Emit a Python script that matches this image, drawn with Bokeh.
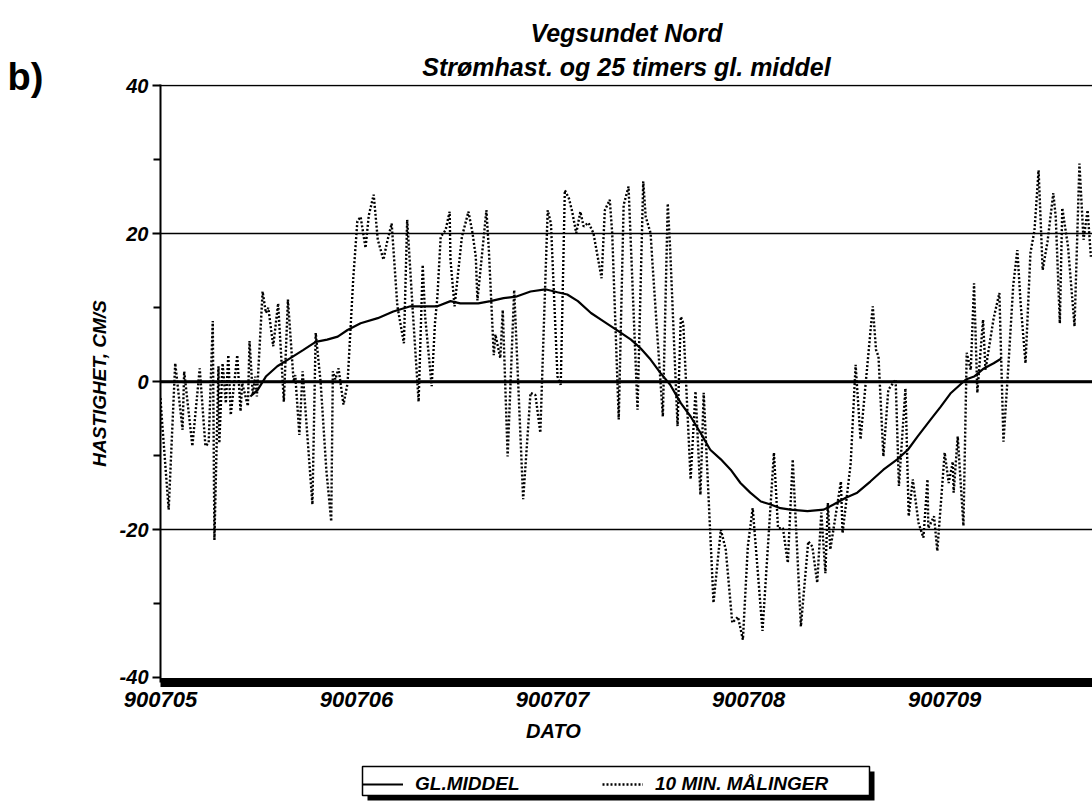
from bokeh.plotting import figure
from bokeh.layouts import row, column
from bokeh.models import FixedTicker, Label, BoxAnnotation, Span, Legend, LegendItem, Range1d, Title
from bokeh.embed import file_html
from bokeh.resources import INLINE

# 10-min measurements: time in hours after 900705 00:00, speed in cm/s
maal_t = [0.0, 0.1, 1.0, 1.8, 2.7, 2.9, 3.9, 4.8, 5.5, 5.9,
          6.4, 6.6, 7.1, 7.2, 7.6, 8.0, 8.3, 8.6, 9.4, 9.8,
          10.0, 10.7, 10.9, 11.3, 11.6, 11.8, 12.5, 12.9, 13.2, 13.8,
          14.4, 15.1, 15.6, 16.3, 16.5, 17.0, 17.4, 18.6, 19.0, 19.6,
          20.3, 20.9, 21.1, 21.4, 21.8, 22.4, 22.9, 23.6, 24.1, 24.5,
          25.1, 25.5, 26.1, 26.6, 27.3, 27.7, 28.3, 29.0, 29.8, 30.2,
          30.9, 31.6, 32.1, 32.4, 33.2, 33.6, 33.9, 34.3, 34.9, 35.4,
          35.5, 36.0, 36.9, 37.7, 38.2, 38.6, 38.8, 39.9, 40.2, 40.8,
          41.0, 41.6, 41.9, 42.5, 43.3, 44.4, 45.3, 45.9, 46.5, 47.4,
          47.8, 48.6, 49.0, 49.5, 50.0, 50.4, 50.9, 51.4, 51.8, 52.4,
          53.0, 54.0, 54.4, 55.0, 55.3, 56.1, 56.7, 57.3, 58.4, 59.1,
          59.4, 60.0, 60.2, 61.5, 62.1, 62.4, 63.3, 63.7, 64.0, 64.9,
          65.5, 66.1, 66.5, 67.7, 68.6, 69.2, 70.0, 70.7, 71.3, 71.9,
          72.5, 73.7, 75.1, 75.6, 76.2, 76.8, 77.4, 78.4, 79.3, 79.8,
          80.4, 80.9, 81.4, 81.7, 82.0, 83.3, 83.5, 84.5, 85.1, 85.7,
          87.2, 87.6, 87.9, 88.5, 89.1, 90.0, 90.4, 91.2, 91.6, 92.1,
          92.8, 93.4, 93.9, 94.0, 94.7, 95.1, 96.0, 96.5, 97.0, 97.1,
          97.6, 98.3, 98.7, 99.2, 99.6, 100.0, 100.7, 101.0, 102.0, 102.7,
          103.2, 103.8, 104.4, 104.9, 105.3, 105.9, 106.5, 107.0, 107.5, 108.0,
          108.6, 109.3, 109.6, 110.1, 110.4, 111.1, 111.9, 112.5, 113.0, 113.5,
          113.9]
maal_v = [-2.2, -4.0, -17.3, 2.5, -6.5, 1.4, -8.7, 1.8, -8.7, -8.3,
          8.2, -21.4, 2.1, -8.3, 2.5, -2.9, 3.6, -4.5, 3.6, -4.0,
          -0.2, -3.3, 5.5, -1.8, 0.7, -2.0, 12.2, 9.3, 10.0, 4.8,
          10.6, -2.7, 11.1, 0.0, 0.9, -7.2, 1.4, -16.6, 6.6, 0.0,
          -11.9, -18.9, 1.4, 0.3, 1.8, -3.1, -0.2, 14.0, 21.7, 22.3,
          18.1, 22.5, 25.3, 19.2, 16.5, 18.7, 21.4, 10.2, 5.2, 21.9,
          9.3, -2.7, 15.8, 8.8, -0.6, 7.9, 11.5, 19.6, 20.5, 23.0,
          16.5, 10.2, 19.6, 23.0, 20.1, 16.9, 11.0, 23.2, 17.8, 3.6,
          6.4, 3.2, 9.7, -10.1, 12.4, -15.9, -1.5, -1.8, -6.9, 23.2,
          21.4, 0.7, -0.4, 25.9, 24.8, 23.0, 20.1, 23.0, 21.0, 21.5,
          20.1, 14.0, 23.2, 24.6, 20.1, -5.1, 23.9, 26.4, -3.8, 27.1,
          22.3, 20.1, 16.5, -4.7, 24.1, 17.8, -6.0, 8.8, 7.9, -13.2,
          -1.3, -15.3, -1.5, -29.9, -20.0, -22.7, -32.6, -31.8, -34.9, -22.3,
          -17.1, -33.7, -9.6, -19.8, -19.8, -24.5, -10.5, -33.1, -21.6, -22.3,
          -27.2, -17.7, -25.9, -16.4, -22.7, -13.5, -20.5, -11.0, 2.3, -7.8,
          10.2, 4.3, 3.4, -10.1, -1.1, 0.3, -14.1, -0.9, -18.2, -13.2,
          -19.1, -21.1, -13.2, -19.8, -18.2, -22.9, -9.6, -13.7, -10.8, -15.0,
          -7.4, -19.5, 3.9, 1.6, 13.3, -1.5, 8.4, 1.6, 8.6, 12.0,
          -8.1, 2.1, 13.1, 17.8, 10.6, 2.5, 17.4, 20.5, 28.6, 15.1,
          19.0, 25.5, 22.3, 7.9, 23.5, 18.3, 7.5, 29.5, 19.2, 23.2,
          16.9]

# 25-hour running mean (GL.MIDDEL)
middel_t = [11.0, 11.9, 12.9, 14.3, 15.9, 17.5, 19.0, 20.4, 21.7, 22.9,
            24.5, 26.6, 28.5, 30.6, 31.8, 33.9, 35.5, 36.7, 38.9, 40.4,
            42.0, 43.5, 45.3, 47.1, 48.6, 49.8, 51.1, 52.7, 54.2, 56.1,
            57.6, 58.8, 60.0, 61.2, 62.4, 63.7, 64.9, 66.1, 67.3, 68.6,
            69.8, 71.0, 72.2, 73.5, 74.7, 75.9, 77.1, 79.2, 81.2, 82.4,
            83.9, 85.3, 86.9, 88.5, 90.2, 91.5, 92.7, 94.3, 95.5, 96.7,
            98.6, 99.6, 100.8, 102.0, 102.9]
middel_v = [-2.0, -1.1, 0.7, 2.1, 3.2, 4.3, 5.4, 5.7, 6.1, 7.0,
            7.9, 8.6, 9.5, 10.2, 10.2, 10.2, 10.9, 10.6, 10.6, 10.9,
            11.3, 11.5, 12.2, 12.5, 12.1, 11.8, 10.9, 9.3, 8.2, 6.8,
            5.7, 4.5, 3.0, 1.2, -0.4, -2.9, -4.7, -6.9, -9.2, -10.5,
            -11.9, -13.7, -15.0, -16.2, -16.6, -17.1, -17.3, -17.5, -17.3, -16.6,
            -15.7, -15.0, -13.5, -11.9, -10.5, -9.2, -7.4, -5.1, -3.4, -1.6,
            0.3, 0.7, 1.8, 2.5, 3.1]

date_ticks = [0, 24, 48, 72, 96]
date_labels = ["900705", "900706", "900707", "900708", "900709"]
y_ticks = [-40, -20, 0, 20, 40]
y_tick_labels = ["-40", "-20", "0", "20", "40"]
y_minor = [-30, -10, 10, 30]
grid_levels = [-20, 0, 20, 40]

FONT = "Liberation Sans"
DASH = "2 2"

# ---------------- left strip with "b)" ----------------
fb = figure(width=60, height=720, output_backend="svg", toolbar_location=None,
            x_axis_location=None, y_axis_location=None, min_border=0,
            x_range=Range1d(0, 60), y_range=Range1d(0, 720))
fb.outline_line_color = None
fb.grid.visible = False
fb.line([-10, -5], [-10, -5], line_color="white", line_alpha=0)
fb.add_layout(Label(x=7, y=644, x_units="screen", y_units="screen", text="b)",
                    text_font=FONT, text_font_style="bold", text_font_size="38px",
                    text_color="black", text_align="left", text_baseline="middle"))

# ---------------- main plot ----------------
p = figure(width=1032, height=720, output_backend="svg", toolbar_location=None,
           x_range=Range1d(0, 114.1), y_range=Range1d(-40.68, 40.2),
           min_border_left=100, min_border_top=84, min_border_right=0, min_border_bottom=38)
p.outline_line_color = None
p.background_fill_color = "white"
p.border_fill_color = "white"

p.add_layout(Title(text="Strømhast. og 25 timers gl. middel", align="center",
                   text_font=FONT, text_font_style="bold italic", text_font_size="25px",
                   text_color="black", standoff=8), "above")
p.add_layout(Title(text="Vegsundet Nord", align="center",
                   text_font=FONT, text_font_style="bold italic", text_font_size="25px",
                   text_color="black", standoff=0), "above")

p.xgrid.visible = False
p.ygrid.ticker = FixedTicker(ticks=grid_levels)
p.ygrid.grid_line_color = "black"
p.ygrid.grid_line_width = 1.6
p.ygrid.grid_line_alpha = 1.0
p.add_layout(Span(location=0, dimension="width", line_color="black", line_width=3))

r_maal = p.line(maal_t, maal_v, line_color="black", line_width=2.4, line_dash=DASH)
r_mid = p.line(middel_t, middel_v, line_color="black", line_width=2.2)

yax = p.yaxis[0]
yax.ticker = FixedTicker(ticks=y_ticks, minor_ticks=y_minor)
yax.major_label_overrides = {t: lab for t, lab in zip(y_ticks, y_tick_labels)}
yax.axis_line_width = 2
yax.major_tick_in = 0
yax.major_tick_out = 8
yax.minor_tick_in = 0
yax.minor_tick_out = 7
yax.major_tick_line_width = 2
yax.minor_tick_line_width = 2
yax.major_label_text_font = FONT
yax.major_label_text_font_style = "bold italic"
yax.major_label_text_font_size = "20px"
yax.major_label_text_color = "black"
yax.major_label_standoff = 4
yax.axis_label = "HASTIGHET, CM/S"
yax.axis_label_text_font = FONT
yax.axis_label_text_font_style = "bold italic"
yax.axis_label_text_font_size = "19px"
yax.axis_label_text_color = "black"
yax.axis_label_standoff = 7

xax = p.xaxis[0]
xax.ticker = FixedTicker(ticks=date_ticks)
xax.major_label_overrides = {t: lab for t, lab in zip(date_ticks, date_labels)}
xax.axis_line_width = 9
xax.major_tick_in = 0
xax.major_tick_out = 0
xax.minor_tick_in = 0
xax.minor_tick_out = 0
xax.major_label_text_font = FONT
xax.major_label_text_font_style = "bold italic"
xax.major_label_text_font_size = "22px"
xax.major_label_text_color = "black"
xax.major_label_standoff = 9

# ---------------- bottom strip: axis title and legend ----------------
fl = figure(width=1092, height=90, output_backend="svg", toolbar_location=None,
            x_axis_location=None, y_axis_location=None, min_border=0,
            x_range=Range1d(0, 1), y_range=Range1d(0, 1))
fl.outline_line_color = None
fl.grid.visible = False
fl.add_layout(Label(x=553, y=80, x_units="screen", y_units="screen", text="DATO",
                    text_font=FONT, text_font_style="bold italic", text_font_size="20px",
                    text_color="black", text_align="center", text_baseline="middle"))
fl.add_layout(BoxAnnotation(left=367, right=874, top=39, bottom=10,
                            left_units="screen", right_units="screen",
                            top_units="screen", bottom_units="screen",
                            fill_color="black", fill_alpha=1.0, line_color=None))
fl.add_layout(BoxAnnotation(left=362, right=869, top=44, bottom=15,
                            left_units="screen", right_units="screen",
                            top_units="screen", bottom_units="screen",
                            fill_color="white", fill_alpha=1.0,
                            line_color="black", line_width=1.5, line_alpha=1.0))
# legend proxies (kept outside the visible range of this strip)
leg_mid = fl.line([-3, -2], [-3, -2], line_color="black", line_width=2.2)
leg_maal = fl.line([-3, -2], [-3, -2], line_color="black", line_width=2.4, line_dash=DASH)
legend = Legend(items=[LegendItem(label="GL.MIDDEL", renderers=[leg_mid]),
                       LegendItem(label="10 MIN. MÅLINGER", renderers=[leg_maal])],
                orientation="horizontal", location=(362, 15), margin=0, padding=5,
                glyph_width=41, glyph_height=20, label_standoff=12, label_width=105,
                spacing=82, border_line_color=None, background_fill_alpha=0.0,
                label_text_font=FONT, label_text_font_style="bold italic",
                label_text_font_size="19px", label_text_color="black")
fl.add_layout(legend)

# fb is wrapped in its own column so that its frame is not aligned to the main frame
layout = column(row(column(fb, spacing=0), p, spacing=0), fl, spacing=0)
open("out.html", "w").write(file_html(layout, INLINE))
